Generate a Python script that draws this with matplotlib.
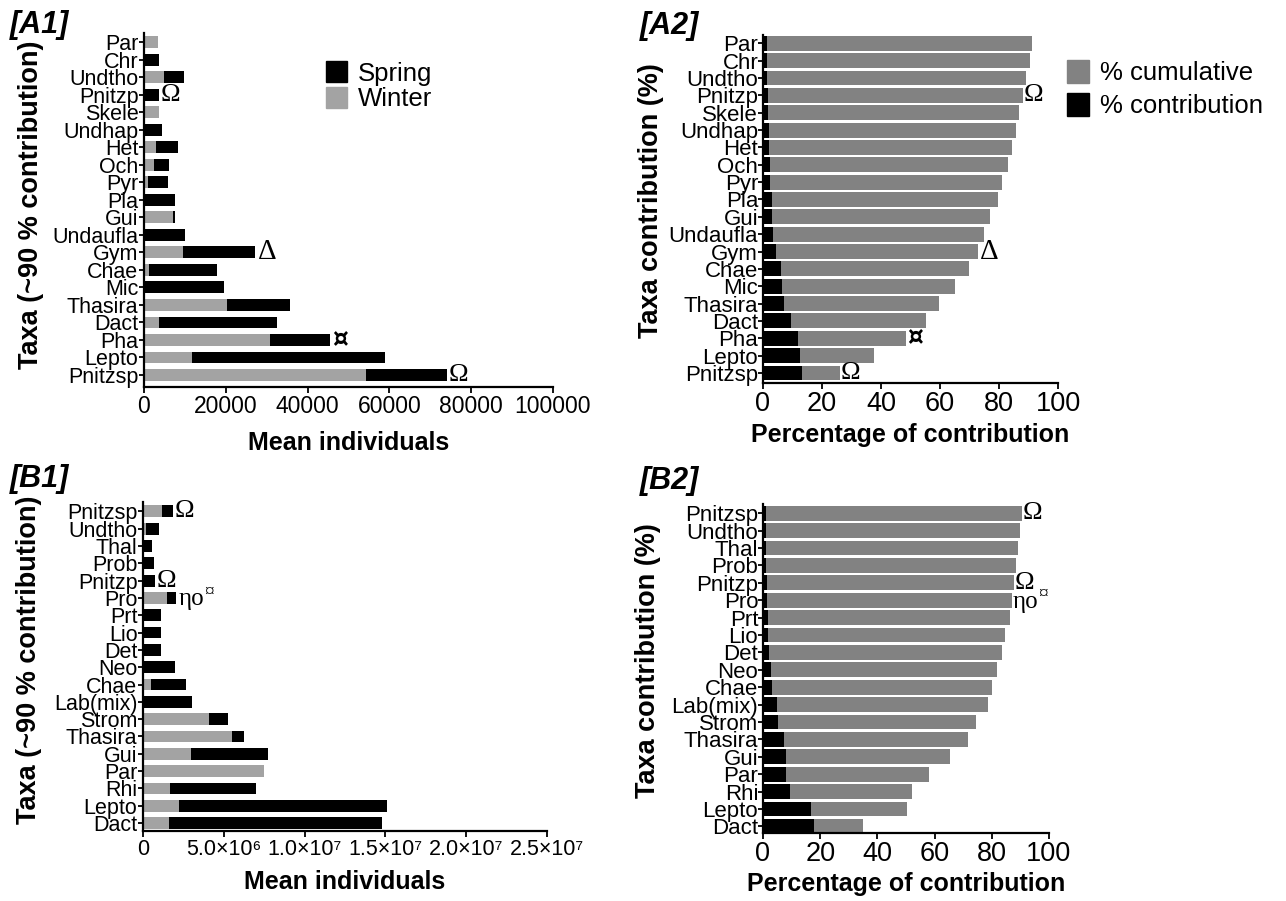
import numpy as np
import matplotlib
matplotlib.use("Agg")
import matplotlib.pyplot as plt
from matplotlib.patches import Patch

plt.rcParams['font.family'] = ['Liberation Sans', 'DejaVu Sans']

# === Data: panel A (top to bottom as drawn) ===
a_taxa = ["Par", "Chr", "Undtho", "Pnitzp", "Skele", "Undhap", "Het", "Och", "Pyr", "Pla",
          "Gui", "Undaufla", "Gym", "Chae", "Mic", "Thasira", "Dact", "Pha", "Lepto", "Pnitzsp"]
a_spring = [0, 3700, 9800, 3600, 0, 4500, 8300, 6200, 5800, 7700,
            7700, 10000, 27100, 17800, 19650, 35800, 32400, 45500, 58900, 74000]
a_winter = [3400, 0, 5000, 0, 3700, 0, 3000, 2400, 1000, 0,
            7200, 0, 9500, 1150, 0, 20300, 3600, 30800, 11700, 54300]
a_cumul = [91.2, 90.4, 89.3, 88.1, 86.8, 85.8, 84.3, 82.9, 81.1, 79.7,
           77.1, 74.9, 72.8, 69.9, 65.0, 59.5, 55.1, 48.6, 37.6, 26.0]
a_contrib = [1.4, 1.4, 1.4, 1.7, 1.7, 1.9, 1.9, 2.3, 2.3, 3.1,
             3.1, 3.5, 4.5, 6.0, 6.6, 7.2, 9.5, 11.9, 12.7, 13.2]
a_marks = {"Pnitzp": "Ω", "Gym": "Δ", "Pha": "¤", "Pnitzsp": "Ω"}

# === Data: panel B ===
b_taxa = ["Pnitzsp", "Undtho", "Thal", "Prob", "Pnitzp", "Pro", "Prt", "Lio", "Det", "Neo",
          "Chae", "Lab(mix)", "Strom", "Thasira", "Gui", "Par", "Rhi", "Lepto", "Dact"]
b_spring = [1.83e6, 0.99e6, 0.58e6, 0.68e6, 0.72e6, 2.06e6, 1.13e6, 1.11e6, 1.13e6, 2.0e6,
            2.65e6, 3.03e6, 5.25e6, 6.22e6, 7.74e6, 0, 7.02e6, 15.1e6, 14.78e6]
b_winter = [1.17e6, 0.2e6, 0, 0, 0, 1.5e6, 0, 0, 0, 0,
            0.52e6, 0, 4.06e6, 5.48e6, 2.99e6, 7.47e6, 1.65e6, 2.22e6, 1.6e6]
b_cumul = [90.5, 89.8, 89.1, 88.4, 87.7, 87.0, 86.3, 84.6, 83.5, 81.8,
           80.0, 78.6, 74.5, 71.7, 65.4, 58.0, 52.1, 50.5, 34.9]
b_contrib = [1.0, 1.0, 1.1, 1.2, 1.3, 1.4, 1.6, 1.8, 2.0, 2.8,
             3.3, 5.0, 5.2, 7.4, 7.9, 8.0, 9.4, 16.9, 17.7]
b_marks = {"Pnitzsp": "Ω", "Pnitzp": "Ω", "Pro": "ηο¤"}

a_xticks = [0, 20000, 40000, 60000, 80000, 100000]
b_xticks = [0, 5e6, 1e7, 1.5e7, 2e7, 2.5e7]
b_xticklabels = ["0", "5.0×10⁶", "1.0×10⁷", "1.5×10⁷", "2.0×10⁷", "2.5×10⁷"]

LIGHT = "#a3a3a3"
DARK = "#828282"
W, H = 1286, 901


def px_axes(fig, left, right, top, bottom):
    return fig.add_axes([left / W, 1 - bottom / H, (right - left) / W, (bottom - top) / H])


def style_axes(ax, xsize, ysize):
    for s in ["top", "right"]:
        ax.spines[s].set_visible(False)
    for s in ["left", "bottom"]:
        ax.spines[s].set_linewidth(1.6)
    ax.tick_params(axis="y", length=3.5, width=1.3, pad=0.5, labelsize=ysize)
    ax.tick_params(axis="x", length=4, width=1.3, pad=2, labelsize=xsize)


def add_marks(ax, taxa, ends, marks, pad):
    y = np.arange(len(taxa))[::-1]
    for name, sym in marks.items():
        i = taxa.index(name)
        if sym == "ηο¤":
            t = ax.annotate("ηο", (ends[i], y[i]), xytext=(pad, -1), textcoords="offset points",
                            va="center", ha="left", fontsize=18, family="Liberation Serif")
            ax.annotate("¤", (1, 0.45), xycoords=t, xytext=(0, 0), textcoords="offset points",
                        va="bottom", ha="left", fontsize=14, family="Liberation Serif")
        elif sym == "¤":
            ax.annotate(sym, (ends[i], y[i]), xytext=(pad, 0), textcoords="offset points",
                        va="center", ha="left", fontsize=18, fontweight="bold",
                        family="DejaVu Sans")
        elif sym == "Δ":
            ax.annotate(sym, (ends[i], y[i]), xytext=(pad + 1, 0), textcoords="offset points",
                        va="center", ha="left", fontsize=21, family="Liberation Serif")
        else:
            ax.annotate(sym, (ends[i], y[i]), xytext=(pad, 0), textcoords="offset points",
                        va="center", ha="left", fontsize=19, family="Liberation Serif")


# === Season panels (A1, B1) ===
def season_panel(ax, taxa, spring, winter, marks, ylim, xlim, xsize):
    y = np.arange(len(taxa))[::-1]
    ax.barh(y, spring, height=0.68, color="black")
    ax.barh(y, winter, height=0.68, color=LIGHT)
    ax.set_yticks(y)
    ax.set_yticklabels(taxa)
    ax.set_ylim(*ylim)
    ax.set_xlim(*xlim)
    style_axes(ax, xsize, 15.5)
    ends = np.maximum(spring, winter)
    add_marks(ax, taxa, ends, marks, 1.5)
    ax.set_ylabel("Taxa (~90 % contribution)", fontsize=19.5, fontweight="bold")


# === Percentage panels (A2, B2) ===
def percent_panel(ax, taxa, cumul, contrib, marks, ylim):
    y = np.arange(len(taxa))[::-1]
    ax.barh(y, cumul, height=0.86, color=DARK)
    ax.barh(y, contrib, height=0.86, color="black")
    ax.set_yticks(y)
    ax.set_yticklabels(taxa)
    ax.set_ylim(*ylim)
    ax.set_xlim(0, 100)
    ax.set_xticks([0, 20, 40, 60, 80, 100])
    style_axes(ax, 19.5, 16)
    ax.tick_params(axis="y", pad=0)
    add_marks(ax, taxa, cumul, marks, 0.5)
    ax.set_ylabel("Taxa contribution (%)", fontsize=19.5, fontweight="bold")


def main():
    fig = plt.figure(figsize=(W / 100, H / 100), dpi=100)

    ax1 = px_axes(fig, 144, 553, 33, 387)
    season_panel(ax1, a_taxa, a_spring, a_winter, a_marks, (-0.685, 19.53), (0, 100000), 16.5)
    ax1.set_xticks(a_xticks)
    ax1.set_xticklabels([str(v) for v in a_xticks])
    ax1.set_xlabel("Mean individuals", fontsize=18, fontweight="bold", labelpad=9)
    ax1.yaxis.set_label_coords(-0.245, 0.516)
    ax1.legend(handles=[Patch(color="black", label="Spring"), Patch(color=LIGHT, label="Winter")],
               loc="upper left", bbox_to_anchor=(326 / W, 1 - 61 / H), bbox_transform=fig.transFigure,
               frameon=False, fontsize=18.5, handlelength=0.8, handleheight=0.9,
               handletextpad=0.45, labelspacing=0.05, borderpad=0, borderaxespad=0)

    ax2 = px_axes(fig, 763, 1058, 35, 383)
    percent_panel(ax2, a_taxa, a_cumul, a_contrib, a_marks, (-0.576, 19.48))
    ax2.set_xlabel("Percentage of contribution", fontsize=18, fontweight="bold", labelpad=4)
    ax2.yaxis.set_label_coords(-0.336, 0.523)
    ax2.legend(handles=[Patch(color=DARK, label="% cumulative"), Patch(color="black", label="% contribution")],
               loc="upper left", bbox_to_anchor=(1067 / W, 1 - 60 / H), bbox_transform=fig.transFigure,
               frameon=False, fontsize=18.5, handlelength=0.85, handleheight=1.0,
               handletextpad=0.45, labelspacing=0.3, borderpad=0, borderaxespad=0)

    ax3 = px_axes(fig, 143, 547, 502, 831)
    season_panel(ax3, b_taxa, b_spring, b_winter, b_marks, (-0.46, 18.54), (0, 2.5e7), 15.5)
    ax3.set_xticks(b_xticks)
    ax3.set_xticklabels(b_xticklabels)
    ax3.set_xlabel("Mean individuals", fontsize=18, fontweight="bold", labelpad=7)
    ax3.yaxis.set_label_coords(-0.25, 0.52)

    ax4 = px_axes(fig, 763, 1049, 504, 833)
    percent_panel(ax4, b_taxa, b_cumul, b_contrib, b_marks, (-0.38, 18.53))
    ax4.set_xlabel("Percentage of contribution", fontsize=18, fontweight="bold", labelpad=3)
    ax4.yaxis.set_label_coords(-0.357, 0.523)

    for label, (x, y) in {"[A1]": (10, 33), "[A2]": (640, 34), "[B1]": (10, 487), "[B2]": (640, 489)}.items():
        fig.text(x / W, 1 - y / H, label, fontsize=22, fontweight="bold", style="italic",
                 ha="left", va="baseline")

    fig.savefig("out.png", dpi=100)


if __name__ == "__main__":
    main()
